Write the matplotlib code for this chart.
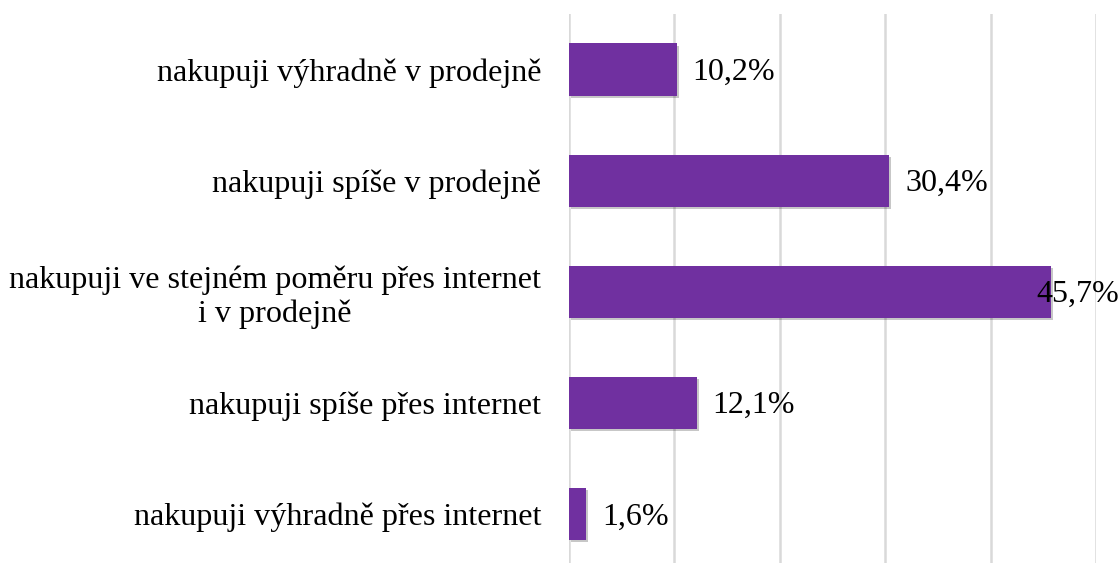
import matplotlib.pyplot as plt
import matplotlib.patheffects as pe

# Data (top to bottom)
categories = [
    'nakupuji výhradně v prodejně',
    'nakupuji spíše v prodejně',
    'nakupuji ve stejném poměru přes internet\ni v prodejně',
    'nakupuji spíše přes internet',
    'nakupuji výhradně přes internet',
]
shares = [10.2, 30.4, 45.7, 12.1, 1.6]
value_labels = ['10,2%', '30,4%', '45,7%', '12,1%', '1,6%']

plt.rcParams['font.family'] = ['Liberation Serif', 'DejaVu Serif']

fig = plt.figure(figsize=(11.2, 5.63), dpi=100)
ax = fig.add_axes([569 / 1120, 0, (1096 - 569) / 1120, 1 - 14 / 563])

positions = list(range(len(categories)))
bars = ax.barh(positions, shares, height=0.47, color='#7030A0', zorder=3)
for bar in bars:
    bar.set_path_effects([pe.SimplePatchShadow(offset=(1.5, -1.5), alpha=0.22, shadow_rgbFace='black'),
                          pe.Normal()])

ax.set_xlim(0, 50)
ax.set_ylim(4.44, -0.5)
ax.set_xticks([0, 10, 20, 30, 40, 50])
ax.set_xticklabels([])
ax.tick_params(axis='x', length=0)
ax.grid(axis='x', color='#d9d9d9', linewidth=1.8, zorder=0)

ax.set_yticks(positions)
ax.set_yticklabels(categories, fontsize=23.1, multialignment='center')
ax.tick_params(axis='y', length=0, pad=20)

for side in ['top', 'right', 'bottom', 'left']:
    ax.spines[side].set_visible(False)

# Value labels: right of bar, shifted back if it would run off the figure
for pos, val, lab in zip(positions, shares, value_labels):
    offset = 11.5 if val < 45 else -10
    ax.annotate(lab, xy=(val, pos), xytext=(offset, -2), textcoords='offset points',
                ha='left', va='center', fontsize=23, zorder=4)

fig.savefig('out.png', dpi=100)
